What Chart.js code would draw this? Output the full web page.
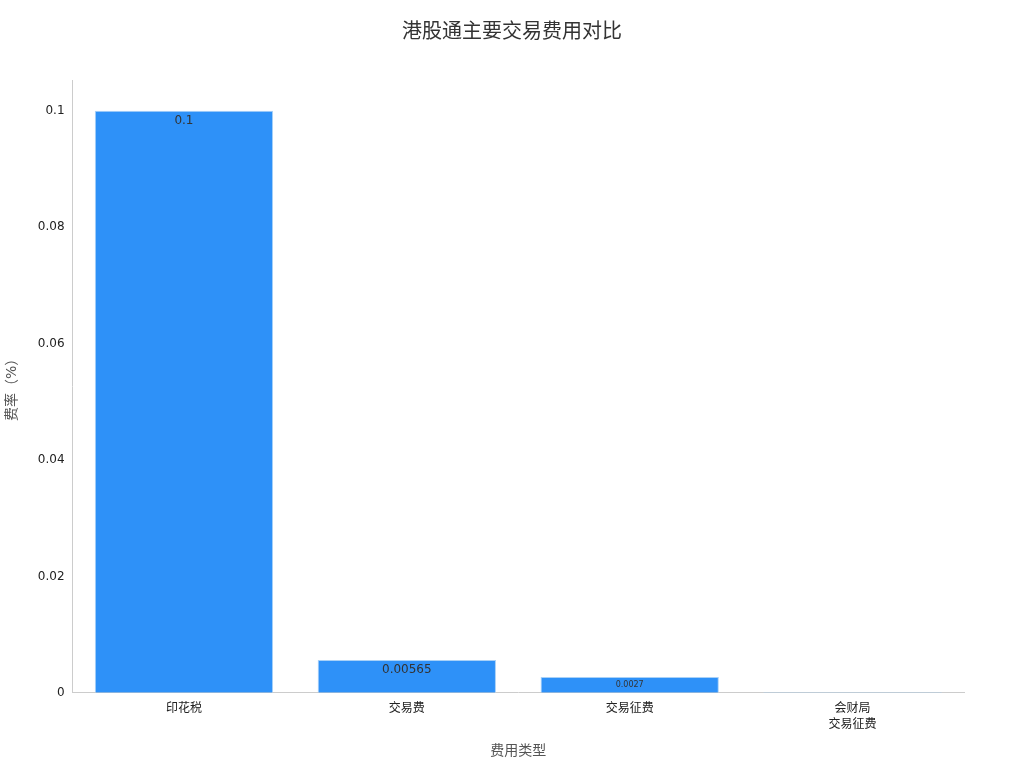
<!DOCTYPE html>
<html>
<head>
<meta charset="utf-8">
<script src="https://cdn.jsdelivr.net/npm/chart.js@4.4.1/dist/chart.umd.min.js"></script>
<style>
  html, body { margin: 0; padding: 0; background: #fff; }
  #wrap { width: 1024px; height: 768px; }
</style>
</head>
<body>
<div id="wrap"><canvas id="feeChart" width="1024" height="768"></canvas></div>
<script>
const chartTitle = '港股通主要交易费用对比';
const categories = [['印花税'], ['交易费'], ['交易征费'], ['会财局', '交易征费']];
const feeRates = [0.1, 0.00565, 0.0027, 0.00015];
const barLabels = ['0.1', '0.00565', '0.0027', ''];
const labelSizes = [12, 12, 8, 6];
const yTicks = [0, 0.02, 0.04, 0.06, 0.08, 0.1];

const fontFamily = '"DejaVu Sans", "Noto Sans CJK SC", sans-serif';

// value text just under the top edge of each bar, title centred on the whole canvas
const barValueLabels = {
    id: 'barValueLabels',
    afterDatasetsDraw(chart) {
        const ctx = chart.ctx;
        const meta = chart.getDatasetMeta(0);
        ctx.save();
        ctx.fillStyle = '#333';
        ctx.textAlign = 'center';
        ctx.textBaseline = 'top';
        meta.data.forEach((bar, i) => {
            if (!barLabels[i]) return;
            ctx.font = labelSizes[i] + 'px ' + fontFamily;
            ctx.fillText(barLabels[i], bar.x, bar.y + 4);
        });
        ctx.font = '20px ' + fontFamily;
        ctx.textBaseline = 'middle';
        ctx.fillText(chartTitle, chart.width / 2, 33);
        ctx.restore();
    }
};

new Chart(document.getElementById('feeChart').getContext('2d'), {
    type: 'bar',
    data: {
        labels: categories,
        datasets: [{
            label: '费率',
            data: feeRates,
            backgroundColor: ['#2e91f8', '#2e91f8', '#2e91f8', '#a9c9e6'],
            borderColor: '#a9d1f7',
            borderWidth: 1,
            barPercentage: 0.8,
            categoryPercentage: 1
        }]
    },
    options: {
        responsive: false,
        animation: false,
        layout: { padding: { top: 80, right: 60, left: 0, bottom: 4 } },
        scales: {
            x: {
                grid: { display: false, drawTicks: true, tickLength: 5, tickColor: '#333' },
                border: { color: '#ccc' },
                ticks: { color: '#222', font: { family: fontFamily, size: 12, lineHeight: 1.35 }, padding: 3 },
                title: {
                    display: true,
                    text: '费用类型',
                    color: '#555',
                    font: { family: fontFamily, size: 14 },
                    padding: { top: 7 }
                }
            },
            y: {
                min: 0,
                max: 0.1053,
                afterBuildTicks(axis) {
                    axis.ticks = yTicks.map(v => ({ value: v }));
                },
                grid: { display: false, drawTicks: true, tickLength: 5, tickColor: '#333' },
                border: { color: '#ccc' },
                ticks: {
                    color: '#222',
                    font: { family: fontFamily, size: 12 },
                    padding: 3,
                    callback: v => String(v)
                },
                title: {
                    display: true,
                    text: '费率（%）',
                    color: '#555',
                    font: { family: fontFamily, size: 14 },
                    padding: { bottom: 14 }
                }
            }
        },
        plugins: {
            legend: { display: false },
            tooltip: { enabled: false },
            title: { display: false }
        }
    },
    plugins: [barValueLabels]
});
</script>
</body>
</html>
